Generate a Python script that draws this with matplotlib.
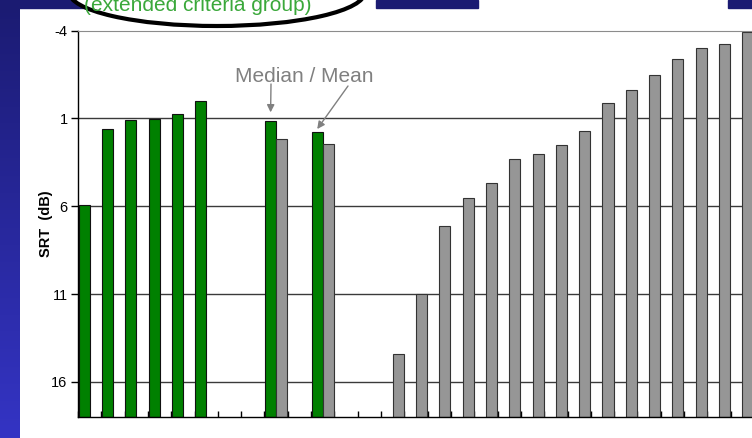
import numpy as np
import matplotlib
matplotlib.use("Agg")
import matplotlib.pyplot as plt
from matplotlib.patches import Ellipse, Rectangle
from matplotlib.colors import LinearSegmentedColormap

plt.rcParams['font.family'] = ['Liberation Sans', 'DejaVu Sans']

# SRT values (dB); 29 category slots on the x axis
n_slots = 29
extended_slots = [0, 1, 2, 3, 4, 5]
extended_srt = [5.9, 1.6, 1.1, 1.05, 0.75, 0.0]
median_slot = 8
median_srt = [1.15, 2.15]      # extended group, standard group
mean_slot = 10
mean_srt = [1.75, 2.45]
standard_slots = list(range(13, 29))
standard_srt = [14.4, 11.0, 7.1, 5.5, 4.7, 3.3, 3.0, 2.5, 1.7, 0.1,
                -0.6, -1.5, -2.4, -3.0, -3.25, -3.9]
y_ticks = [-4, 1, 6, 11, 16]
y_floor = 18

green = np.full(n_slots, np.nan)
gray = np.full(n_slots, np.nan)
green[extended_slots] = extended_srt
green[median_slot], gray[median_slot] = median_srt
green[mean_slot], gray[mean_slot] = mean_srt
gray[standard_slots] = standard_srt

W, H = 752, 438
fig = plt.figure(figsize=(W / 100, H / 100), dpi=100)
fig.patch.set_facecolor('white')

# slide decoration: left gradient stripe and top bars
bg = fig.add_axes([0, 0, 20 / W, 1], zorder=0)
cmap = LinearSegmentedColormap.from_list('slide', ['#1b1b72', '#3434c4'])
bg.imshow(np.linspace(0, 1, 200).reshape(-1, 1), aspect='auto', cmap=cmap)
bg.axis('off')
for x0, x1 in [(0, 100), (376, 478), (728, 752)]:
    fig.patches.append(Rectangle((x0 / W, 1 - 8 / H), (x1 - x0) / W, 8 / H,
                                 transform=fig.transFigure, color='#1b1b72'))

left, right, top, bottom = 78, 754, 30.7, 417
ax = fig.add_axes([left / W, (H - bottom) / H, (right - left) / W, (bottom - top) / H], zorder=2)

bw = 0.475
idx = np.arange(n_slots)
m = ~np.isnan(green)
ax.bar(idx[m] - bw / 2, green[m] - y_floor, bottom=y_floor, width=bw,
       color='#008000', edgecolor='#111111', linewidth=0.8, zorder=2)
m = ~np.isnan(gray)
ax.bar(idx[m] + bw / 2, gray[m] - y_floor, bottom=y_floor, width=bw,
       color='#969696', edgecolor='#333333', linewidth=0.8, zorder=2)

ax.set_xlim(-0.5, n_slots - 0.5)
ax.set_ylim(y_floor, -4)
ax.set_yticks(y_ticks)
ax.set_yticklabels([str(t) for t in y_ticks], fontsize=10.5)
ax.set_xticks(np.arange(-0.5, n_slots - 0.5, 1))
ax.tick_params(axis='x', direction='in', length=4, width=1, labelbottom=False)
ax.tick_params(axis='y', direction='out', length=5, width=1, pad=2.5)
for t in y_ticks[1:]:
    ax.axhline(t, color='#3a3a3a', lw=1, zorder=1)
ax.spines['right'].set_visible(False)
ax.spines['top'].set_color('#8c8c8c')
ax.spines['left'].set_linewidth(1)
ax.spines['bottom'].set_linewidth(1)

fig.text(46 / W, 1 - 224 / H, 'SRT  (dB)', rotation=90, fontsize=10.5,
         fontweight='bold', ha='center', va='center')

# overlay in pixel coordinates for the callout and annotations
ov = fig.add_axes([0, 0, 1, 1], zorder=3)
ov.set_xlim(0, W)
ov.set_ylim(H, 0)
ov.axis('off')
ov.patch.set_alpha(0)
ov.add_patch(Ellipse((217, -8), 296, 68, facecolor='white', edgecolor='black', lw=3))
ov.text(198, 11, '(extended criteria group)', color='#3aa83a', fontsize=15,
        ha='center', va='baseline')
ov.text(235, 82, 'Median / Mean', color='#808080', fontsize=15, va='baseline')

arrow = dict(arrowstyle='-|>', color='#808080', lw=1, mutation_scale=11, shrinkA=0, shrinkB=0)
ax.annotate('', xy=(median_slot - bw / 2, median_srt[0] - 0.5), xytext=(271, H - 84),
            textcoords='figure pixels', arrowprops=arrow)
ax.annotate('', xy=(mean_slot - bw / 2, mean_srt[0] - 0.15), xytext=(348, H - 86),
            textcoords='figure pixels', arrowprops=arrow)

fig.savefig('out.png', dpi=100)
